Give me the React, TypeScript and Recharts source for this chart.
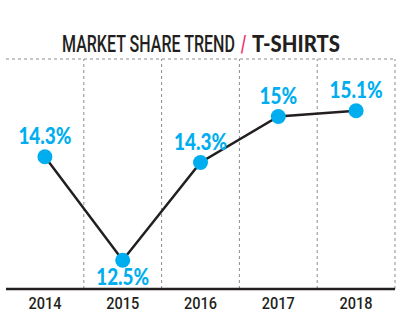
import React, { useLayoutEffect, useRef, useState } from 'react';
import { LineChart, Line, XAxis, YAxis, CartesianGrid, ReferenceLine, LabelList } from 'recharts';

const years = ['2014', '2015', '2016', '2017', '2018'];
const share = [14.3, 12.5, 14.2, 15.0, 15.1];
const shareLabels = ['14.3%', '12.5%', '14.3%', '15%', '15.1%'];
const yTicks = [12, 14, 16];
const columnEdges = [0.5, 1.5, 2.5, 3.5, 4.5];

const data = years.map((year, i) => ({ idx: i, year, share: share[i], label: shareLabels[i] }));

const INK = '#231f20';
const CYAN = '#00aeef';
const GRID = '#8c8c8c';

// squeezes a text horizontally so it fills the given width
const FitText = ({ x, y, width, children, ...rest }: any) => {
  const ref = useRef<SVGTextElement>(null);
  const [k, setK] = useState(1);
  useLayoutEffect(() => {
    if (ref.current) {
      const w = ref.current.getBBox().width;
      if (w) setK(width / w);
    }
  }, [width]);
  return (
    <text ref={ref} transform={`translate(${x},${y}) scale(${k},1)`} {...rest}>
      {children}
    </text>
  );
};

const YearTick = (props: any) => {
  const { x, y, payload } = props;
  return (
    <text
      transform={`translate(${x},${y + 12}) scale(0.88,1)`}
      textAnchor="middle"
      fill={INK}
      fontFamily="Roboto, sans-serif"
      fontWeight={500}
      fontSize={16.5}
    >
      {years[payload.value]}
    </text>
  );
};

const ValueLabel = (props: any) => {
  const { x, y, index } = props;
  const prev = share[index - 1] ?? Infinity;
  const next = share[index + 1] ?? Infinity;
  // dips get their label under the dot
  const below = share[index] < prev && share[index] < next;
  return (
    <text
      transform={`translate(${x},${y + (below ? 25 : -13)}) scale(0.86,1)`}
      textAnchor="middle"
      fill={CYAN}
      fontFamily="Lato, sans-serif"
      fontWeight={900}
      fontSize={22}
    >
      {shareLabels[index]}
    </text>
  );
};

export default function App() {
  return (
    <div style={{ position: 'relative', width: 404, height: 329, background: '#fff' }}>
      <style>{`body{margin:0}`}</style>
      <svg width={404} height={60} style={{ position: 'absolute', left: 0, top: 0 }}>
        <FitText x={62} y={52} width={173} fill={INK} fontFamily="Roboto, sans-serif" fontWeight={500} fontSize={23}>
          MARKET SHARE TREND
        </FitText>
        <FitText x={241} y={52} width={6} fill="#ee2a6b" fontFamily="Roboto, sans-serif" fontWeight={700} fontSize={23}>
          /
        </FitText>
        <FitText x={252} y={52} width={88} fill={INK} fontFamily="Lato, sans-serif" fontWeight={900} fontSize={23}>
          T-SHIRTS
        </FitText>
      </svg>
      <LineChart width={404} height={329} data={data} margin={{ top: 59, right: 9, left: 6, bottom: 0 }}>
        <CartesianGrid vertical={false} stroke={GRID} strokeDasharray="3 3" />
        {columnEdges.map((e) => (
          <ReferenceLine key={e} x={e} stroke={GRID} strokeDasharray="3 3" />
        ))}
        <XAxis
          type="number"
          dataKey="idx"
          domain={[-0.5, 4.5]}
          ticks={[0, 1, 2, 3, 4]}
          interval={0}
          height={40}
          tickLine={false}
          axisLine={{ stroke: INK, strokeWidth: 2.5 }}
          tick={<YearTick />}
        />
        <YAxis
          type="number"
          domain={[12, 16]}
          ticks={yTicks}
          width={0}
          tick={false}
          tickLine={false}
          axisLine={{ stroke: INK, strokeWidth: 2.5 }}
        />
        <Line
          type="linear"
          dataKey="share"
          stroke={INK}
          strokeWidth={2.5}
          dot={{ r: 7.5, fill: CYAN, stroke: 'none' }}
          activeDot={false}
          isAnimationActive={false}
        >
          <LabelList dataKey="label" content={<ValueLabel />} />
        </Line>
      </LineChart>
    </div>
  );
}
